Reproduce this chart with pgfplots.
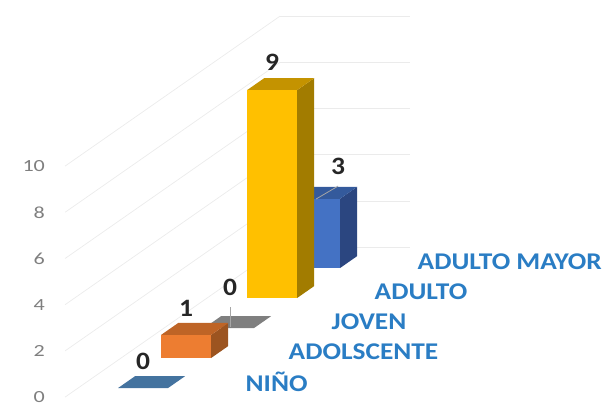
\documentclass[border=0pt]{standalone}
\usepackage{fontspec}
\setmainfont{Carlito}
\usepackage{pgfplots}
\pgfplotsset{compat=1.18}
\definecolor{wallgrid}{HTML}{EBEBEB}
\definecolor{ticktxt}{HTML}{7F7F7F}
\definecolor{cattxt}{HTML}{2A7DC4}
\definecolor{valtxt}{HTML}{262626}
\definecolor{leader}{HTML}{A6A6A6}
\definecolor{ninof}{HTML}{44739F}
\definecolor{orf}{HTML}{ED7D31}
\definecolor{ort}{HTML}{BE6426}
\definecolor{ors}{HTML}{9C5420}
\definecolor{grayf}{HTML}{7F7F7F}
\definecolor{yef}{HTML}{FFC000}
\definecolor{yet}{HTML}{C49300}
\definecolor{yes}{HTML}{A27C00}
\definecolor{blf}{HTML}{4472C4}
\definecolor{blt}{HTML}{345A9C}
\definecolor{bls}{HTML}{2B4680}
% #1 front y, #2 back y, #3 value, #4 front, #5 top, #6 side
\newcommand{\bartd}[6]{%
  \addplot3[draw=none,fill=#6] coordinates {(1,#1,0) (1,#2,0) (1,#2,#3) (1,#1,#3)} --cycle;
  \addplot3[draw=none,fill=#5] coordinates {(0,#1,#3) (1,#1,#3) (1,#2,#3) (0,#2,#3)} --cycle;
  \addplot3[draw=none,fill=#4] coordinates {(0,#1,0) (1,#1,0) (1,#1,#3) (0,#1,#3)} --cycle;
}
\tikzset{vallab/.style={text=valtxt,xscale=1.1,font=\fontsize{25}{30}\selectfont\bfseries}}
\begin{document}
\begin{tikzpicture}
\begin{axis}[
    x={(50pt,0pt)}, y={(43pt,30pt)}, z={(0pt,23.1pt)},
    xmin=-0.8, xmax=1.8,
    ymin=-0.5, ymax=4.5,
    zmin=0, zmax=10,
    clip=false,
    axis line style={draw=none},
    major tick length=0pt,
    xtick=\empty,
    ytick={0,1,2,3,4},
    yticklabels={NIÑO,ADOLSCENTE,JOVEN,ADULTO,ADULTO MAYOR},
    ztick={0,2,4,6,8,10},
    z tick label style={font=\fontsize{17}{20}\selectfont,text=ticktxt,anchor=east,xscale=1.3,xshift=-12pt,inner ysep=0pt},
    y tick label style={font=\fontsize{24}{29}\selectfont\bfseries,text=cattxt,anchor=west,xscale=1.14,xshift=22pt},
    /pgf/number format/assume math mode=true,
    z tick style={draw=none},
    ztick pos=left,
    zmajorgrids=true,
    major grid style={wallgrid,line width=0.7pt},
]
% back to front
\bartd{3.8}{4.2}{3}{blf}{blt}{bls}
\draw[leader,line width=0.8pt] (axis cs:0.35,4,2.73) -- (axis cs:0.79,4,3.29);
\bartd{2.8}{3.2}{9}{yef}{yet}{yes}
\addplot3[draw=none,fill=grayf] coordinates {(0,1.8,0) (1,1.8,0) (1,2.2,0) (0,2.2,0)} --cycle;
\bartd{0.8}{1.2}{1}{orf}{ort}{ors}
\draw[leader,line width=0.8pt] (axis cs:0.35,2,0.65) -- (axis cs:0.35,2,-0.2);
\addplot3[draw=none,fill=ninof] coordinates {(0,-0.2,0) (1,-0.2,0) (1,0.2,0) (0,0.2,0)} --cycle;
\node[vallab] at (axis cs:0.33,0,0.91) {0};
\node[vallab] at (axis cs:0.33,1,1.9) {1};
\node[vallab] at (axis cs:0.35,2,1.52) {0};
\node[vallab] at (axis cs:0.33,3,9.96) {9};
\node[vallab] at (axis cs:0.79,4,4.16) {3};
\coordinate (tl) at (axis cs:-2.532,0,16.54);
\coordinate (br) at (axis cs:9.568,0,-0.952);
\end{axis}
\pgfresetboundingbox
\path[use as bounding box] (tl) rectangle (br);
\end{tikzpicture}
\end{document}
